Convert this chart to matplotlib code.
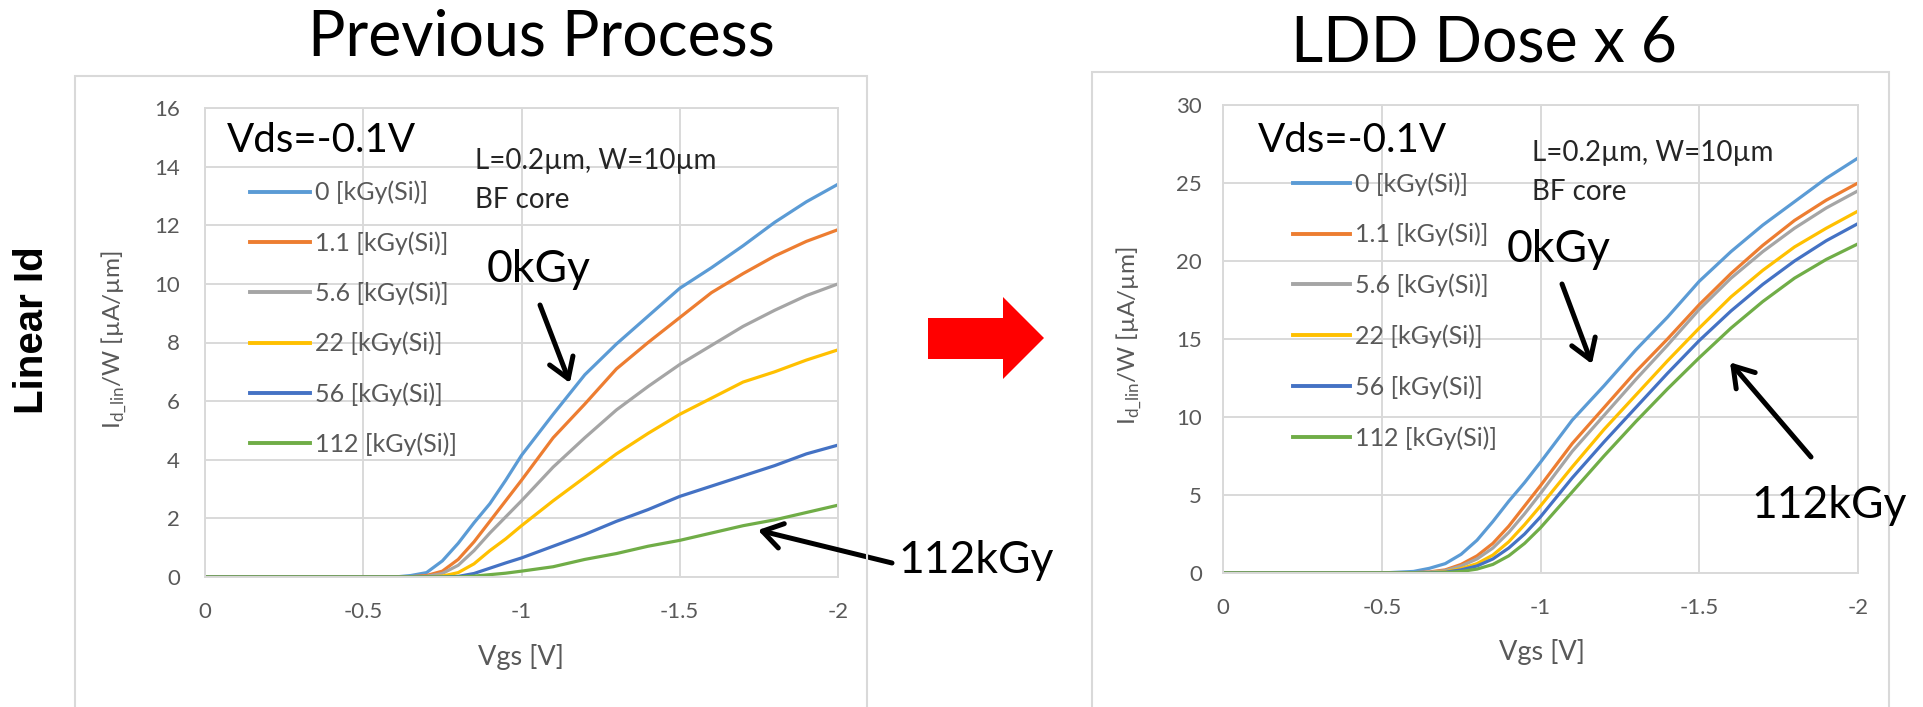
import matplotlib
matplotlib.use("Agg")
import matplotlib.pyplot as plt
from matplotlib.patches import Rectangle, Polygon

W, H, DPI = 1924, 707, 100

# ---- data -------------------------------------------------------------
vgs = [0.0, -0.5, -0.6, -0.65, -0.7, -0.75, -0.8, -0.85, -0.9, -0.95, -1.0,
       -1.1, -1.2, -1.3, -1.4, -1.5, -1.6, -1.7, -1.8, -1.9, -2.0]

dose_labels = ['0 [kGy(Si)]', '1.1 [kGy(Si)]', '5.6 [kGy(Si)]',
               '22 [kGy(Si)]', '56 [kGy(Si)]', '112 [kGy(Si)]']

# Previous process, Id_lin/W [uA/um]
prev_0 = [0, 0, 0.0, 0.05, 0.15, 0.55, 1.15, 1.85, 2.5, 3.3, 4.15,
          5.55, 6.9, 7.95, 8.9, 9.85, 10.55, 11.3, 12.1, 12.8, 13.4]
prev_1p1 = [0, 0, 0, 0.01, 0.05, 0.2, 0.6, 1.2, 1.9, 2.6, 3.3,
            4.75, 5.9, 7.1, 8.0, 8.85, 9.7, 10.35, 10.95, 11.45, 11.85]
prev_5p6 = [0, 0, 0, 0, 0.02, 0.12, 0.4, 0.9, 1.5, 2.05, 2.6,
            3.75, 4.75, 5.7, 6.5, 7.25, 7.9, 8.55, 9.1, 9.6, 10.0]
prev_22 = [0, 0, 0, 0, 0, 0.03, 0.15, 0.45, 0.9, 1.3, 1.75,
           2.6, 3.4, 4.2, 4.9, 5.55, 6.1, 6.65, 7.0, 7.4, 7.75]
prev_56 = [0, 0, 0, 0, 0, 0, 0.02, 0.12, 0.3, 0.48, 0.65,
           1.05, 1.45, 1.9, 2.3, 2.75, 3.1, 3.45, 3.8, 4.2, 4.5]
prev_112 = [0, 0, 0, 0, 0, 0, 0, 0.03, 0.08, 0.13, 0.2,
            0.35, 0.6, 0.8, 1.05, 1.25, 1.5, 1.75, 1.95, 2.2, 2.45]

# LDD dose x 6, Id_lin/W [uA/um]
ldd_0 = [0, 0, 0.1, 0.3, 0.6, 1.2, 2.1, 3.3, 4.6, 5.8, 7.1,
         9.8, 12.0, 14.3, 16.4, 18.7, 20.6, 22.3, 23.8, 25.3, 26.6]
ldd_1p1 = [0, 0, 0.02, 0.07, 0.2, 0.55, 1.1, 1.9, 3.0, 4.3, 5.6,
           8.3, 10.6, 12.9, 15.0, 17.2, 19.2, 21.0, 22.6, 23.9, 25.0]
ldd_5p6 = [0, 0, 0.01, 0.05, 0.15, 0.45, 0.9, 1.6, 2.6, 3.8, 5.1,
           7.8, 10.1, 12.4, 14.6, 16.9, 18.9, 20.6, 22.1, 23.4, 24.5]
ldd_22 = [0, 0, 0, 0.02, 0.08, 0.28, 0.6, 1.15, 2.0, 3.1, 4.3,
          6.8, 9.2, 11.4, 13.6, 15.7, 17.7, 19.4, 20.9, 22.1, 23.2]
ldd_56 = [0, 0, 0, 0.01, 0.05, 0.2, 0.45, 0.9, 1.6, 2.5, 3.6,
          6.1, 8.4, 10.6, 12.8, 14.9, 16.8, 18.5, 20.0, 21.3, 22.4]
ldd_112 = [0, 0, 0, 0, 0.02, 0.1, 0.25, 0.55, 1.1, 1.9, 2.9,
           5.2, 7.5, 9.7, 11.8, 13.8, 15.7, 17.4, 18.9, 20.1, 21.1]

x_ticks = [0, -0.5, -1, -1.5, -2]
x_tick_labels = ['0', '-0.5', '-1', '-1.5', '-2']
prev_y_ticks = [0, 2, 4, 6, 8, 10, 12, 14, 16]
ldd_y_ticks = [0, 5, 10, 15, 20, 25, 30]

# arrow tips (Vgs, Id/W) for the dose call-outs
prev_tip_0 = (-1.153, 6.62)
prev_tip_112 = (-1.747, 1.60)
ldd_tip_0 = (-1.162, 13.4)
ldd_tip_112 = (-1.597, 13.5)

colors = ['#5B9BD5', '#ED7D31', '#A5A5A5', '#FFC000', '#4472C4', '#70AD47']
GRID = '#D9D9D9'
TXT = '#595959'

plt.rcParams['font.family'] = ['Lato', 'DejaVu Sans']


def fx(x):
    return x / W


def fy(y):
    return 1 - y / H


fig = plt.figure(figsize=(W / DPI, H / DPI), dpi=DPI)
fig.patch.set_facecolor('white')

# panel frames
for x0, x1, y0 in [(75, 867, 76), (1092, 1889, 72)]:
    fig.add_artist(Rectangle((fx(x0), fy(720)), fx(x1) - fx(x0), fy(y0) - fy(720),
                             transform=fig.transFigure, fill=False,
                             edgecolor=GRID, lw=1.5))


def make_panel(px, series, ymax, yticks, ypad, leg_anchor, leg_hlen, leg_space):
    x0, y0, x1, y1 = px
    ax = fig.add_axes([fx(x0), fy(y1), fx(x1) - fx(x0), fy(y0) - fy(y1)])
    for vals, c, lab in zip(series, colors, dose_labels):
        ax.plot(vgs, vals, color=c, lw=2.3, label=lab, solid_joinstyle='round')
    ax.set_xlim(0, -2)
    ax.set_ylim(0, ymax)
    ax.set_xticks(x_ticks)
    ax.set_xticklabels(x_tick_labels)
    ax.set_yticks(yticks)
    ax.set_yticklabels([str(t) for t in yticks])
    ax.grid(True, color=GRID, lw=1.4)
    ax.set_axisbelow(True)
    for s in ax.spines.values():
        s.set_color(GRID)
        s.set_linewidth(1.4)
    ax.tick_params(axis='both', length=0, labelsize=16, labelcolor=TXT)
    ax.tick_params(axis='y', pad=ypad)
    ax.tick_params(axis='x', pad=18)
    leg = ax.legend(loc='upper left', bbox_to_anchor=leg_anchor, frameon=False,
                    fontsize=18, handlelength=leg_hlen, handletextpad=0.2,
                    labelspacing=leg_space, borderpad=0, borderaxespad=0)
    for t in leg.get_texts():
        t.set_color(TXT)
    for h in leg.get_lines():
        h.set_linewidth(2.8)
    return ax


ax_prev = make_panel((205, 108, 838, 577),
                     [prev_0, prev_1p1, prev_5p6, prev_22, prev_56, prev_112],
                     16, prev_y_ticks, 18, (0.071, 0.845), 2.4, 1.07)
ax_ldd = make_panel((1223, 105, 1858, 573),
                    [ldd_0, ldd_1p1, ldd_5p6, ldd_22, ldd_56, ldd_112],
                    30, ldd_y_ticks, 15, (0.110, 0.857), 2.3, 1.09)

ylab = 'I$_{\\mathregular{d\\_lin}}$/W [\u00b5A/\u00b5m]'
for (cx, cy) in [(114, 340), (1129, 336)]:
    fig.text(fx(cx), fy(cy), ylab, rotation=90, ha='center', va='center',
             fontsize=17.5, color=TXT)
for (cx, cy) in [(521, 657), (1542, 652)]:
    fig.text(fx(cx), fy(cy), 'Vgs [V]', ha='center', va='center',
             fontsize=19.5, color=TXT)

# titles
fig.text(fx(541), fy(55), 'Previous Process', ha='center', va='baseline',
         fontsize=45, color='black')
fig.text(fx(1484), fy(62), 'LDD Dose x 6', ha='center', va='baseline',
         fontsize=45, color='black')
fig.text(fx(32), fy(330), 'Linear Id', rotation=90, ha='center', va='center',
         fontsize=29, fontweight='bold', family=['Liberation Sans', 'DejaVu Sans'])

# condition labels
for (x, yb) in [(227, 152), (1258, 152)]:
    fig.text(fx(x), fy(yb), 'Vds=-0.1V', ha='left', va='baseline',
             fontsize=29, color='black')
for (x, yb1, yb2) in [(475, 169, 208), (1532, 161, 200)]:
    fig.text(fx(x), fy(yb1), 'L=0.2\u00b5m, W=10\u00b5m', ha='left', va='baseline',
             fontsize=20, color='#262626')
    fig.text(fx(x), fy(yb2), 'BF core', ha='left', va='baseline',
             fontsize=20, color='#262626')

# dose call-outs
for (x, yb, s) in [(487, 282, '0kGy'), (898, 573, '112kGy'),
                   (1507, 262, '0kGy'), (1751, 518, '112kGy')]:
    fig.text(fx(x), fy(yb), s, ha='left', va='baseline', fontsize=32, color='black')

arrow_kw = dict(arrowstyle='->,head_length=0.7,head_width=0.45', lw=3.6,
                color='black', mutation_scale=20, shrinkA=0, shrinkB=0)
for ax, tip, tail in [(ax_prev, prev_tip_0, (540, 305)),
                      (ax_prev, prev_tip_112, (892, 563)),
                      (ax_ldd, ldd_tip_0, (1562, 284)),
                      (ax_ldd, ldd_tip_112, (1811, 457))]:
    ax.annotate('', xy=tip, xycoords='data',
                xytext=(tail[0], H - tail[1]), textcoords='figure pixels',
                arrowprops=arrow_kw, annotation_clip=False)

# red block arrow between the panels
pts = [(928, 318), (1003, 318), (1003, 297), (1044, 338),
       (1003, 379), (1003, 359), (928, 359)]
fig.add_artist(Polygon([(fx(x), fy(y)) for x, y in pts], closed=True,
                       transform=fig.transFigure, facecolor='#FF0000',
                       edgecolor='none'))

fig.savefig('out.png', dpi=DPI, facecolor='white')
